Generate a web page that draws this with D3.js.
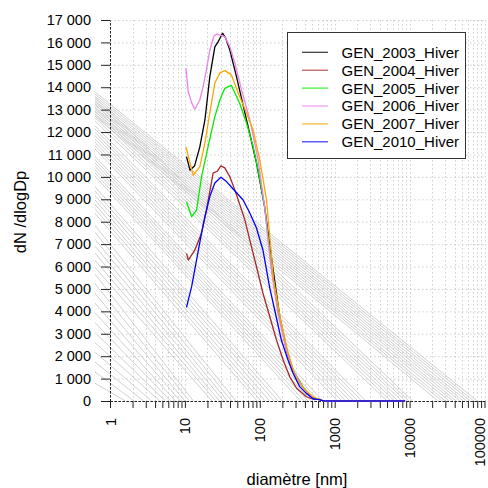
<!DOCTYPE html>
<html><head><meta charset="utf-8">
<script src="https://cdn.jsdelivr.net/npm/d3@7"></script>
<style>
html,body{margin:0;padding:0;background:#fff;}
svg{display:block;font-family:"Liberation Sans",Arial,sans-serif;}
</style></head><body>
<svg id="c" width="488" height="488"></svg>
<script>
// ---------- data ----------
const seriesNames = ["GEN_2003_Hiver","GEN_2004_Hiver","GEN_2005_Hiver","GEN_2006_Hiver","GEN_2007_Hiver","GEN_2010_Hiver"];
const seriesColors = ["#000000","#a52a2a","#00ee00","#ee82ee","#ffa500","#0000ff"];

const d2003 = [10.5,11.7,13.5,15.8,18.5,21.5,25.1,28,31.8,35,39.8,48.9,66.5,90.3,116,149,185,227,275,374,509,600,700,8700];
const v2003 = [10900,10300,10500,11330,12540,14460,15800,16050,16410,16200,15660,14460,12540,10620,8660,5980,3750,2280,1380,620,130,90,0,0];

const d2004 = [10.5,11.1,13.6,16.7,19.4,23.8,27,30.2,34.1,39.8,46.4,57.2,63.1,73.6,90.3,110,136,167,205,251,309,418,515,600,700,8700];
const v2004 = [6590,6290,6740,7500,8520,10170,10250,10490,10400,10010,9420,8520,8080,7180,5990,4820,3760,2720,1830,1080,580,190,80,90,0,0];

const d2005 = [10.5,12.3,14.3,16.7,20.4,25.1,29.3,34.1,41.8,53.7,66.5,81.4,95,116,144,179,229,285,386,526,600,700,8700];
const v2005 = [8890,8220,8520,10010,11350,12690,13430,13950,14080,13300,12400,11350,10310,8670,5850,3840,2280,1300,580,130,90,0,0];

const d2006 = [10.3,11.1,12.3,13.6,15.8,17.5,19.4,21.5,24.3,26.4,29.3,34.1,39.8,46.4,57.2,73.6,95.1,116,140,173,222,275,374,509,600,700,8700];
const v2006 = [14850,13800,13300,13020,13430,14030,14770,15660,16260,16380,16330,16260,15810,15080,13870,12540,10750,8670,6070,3970,2360,1380,620,130,90,0,0];

const d2007 = [10.3,12.9,15.8,18.5,21.5,25.1,29.3,34.1,41.8,51.5,66.5,81.4,100,123,153,190,237,292,398,540,620,700,8700];
const v2007 = [11350,10080,10450,11510,12850,14190,14640,14740,14550,13740,12850,12090,10750,8970,5400,3600,2200,1160,500,130,80,0,0];

const d2010 = [10.5,12.3,14.3,16.7,18.5,21.5,25.1,30.2,35.9,44.1,59.9,73.6,90.3,110,136,158,194,238,277,341,418,515,620,720,8700];
const v2010 = [4180,5100,6290,7500,8220,9120,9730,9980,9790,9460,8970,8390,7720,6740,5040,4060,2720,1830,1250,640,340,100,60,0,0];

const seriesD = [d2003,d2004,d2005,d2006,d2007,d2010];
const seriesV = [v2003,v2004,v2005,v2006,v2007,v2010];

// background grey lines: value at diameter 1 nm, diameter where they reach 0
const bgAt1 = [13250,13150,13050,12950,12850,12750,12650,12550,12450,12350,12250,12150,
  12900,12750,12600,12450,12300,12150,12000,11850,
  11600,11450,11300,11150,11000,10850,10700,10550,
  10200,10050,9900,9750,9600,9450,9300,
  8800,8600,8400,8200,8000,7800,7600,
  7000,6700,6400,6100,5800,5500,5200,
  4800,4400,4000,3600,3200,2800,2400,2000,
  1600,1200,800,400];
const bgEnd = [80000,72000,65000,58000,52000,47000,42000,38000,34000,30000,27000,24000,
  11000,9800,8800,7900,7000,6300,5600,5000,
  2600,2300,2050,1800,1600,1400,1250,1100,
  700,620,550,490,440,390,350,
  200,175,155,135,118,104,92,
  48,42,37,33,29,26,23,
  13,11.5,10,8.7,7.5,6.5,5.5,4.6,
  3.6,2.8,2.1,1.6];

const xMajorTicks = [1,10,100,1000,10000,100000];
const xTickLabels = ["1","10","100","1000","10000","100000"];
const yTicks = [0,1000,2000,3000,4000,5000,6000,7000,8000,9000,10000,11000,12000,13000,14000,15000,16000,17000];
const yTickLabels = ["0","1 000","2 000","3 000","4 000","5 000","6 000","7 000","8 000","9 000","10 000","11 000","12 000","13 000","14 000","15 000","16 000","17 000"];
const xTitle = "diamètre [nm]";
const yTitle = "dN /dlogDp";

// ---------- layout ----------
const svg = d3.select("#c");
const x = d3.scaleLog().domain([1,100000]).range([110,484.5]);
const y = d3.scaleLinear().domain([0,17000]).range([401,20]);
const region = {x0:95, x1:500, y0:5, y1:416};

const xAllTicks = [];
xMajorTicks.forEach((m,i)=>{ if(i<xMajorTicks.length-1){ for(let k=1;k<10;k++) xAllTicks.push(m*k);} else xAllTicks.push(m); });

svg.append("defs").append("clipPath").attr("id","clip")
  .append("rect").attr("x",region.x0).attr("y",region.y0)
  .attr("width",region.x1-region.x0).attr("height",region.y1-region.y0);

// grid
const grid = svg.append("g").attr("stroke","#cfcfcf").attr("stroke-width",1).attr("stroke-dasharray","1.5,2.5");
grid.selectAll("line.h").data(yTicks).enter().append("line")
  .attr("x1",x(1)).attr("x2",x(100000)).attr("y1",d=>y(d)+0.5).attr("y2",d=>y(d)+0.5);
grid.selectAll("line.v").data(xAllTicks).enter().append("line")
  .attr("x1",d=>Math.round(x(d))+0.5).attr("x2",d=>Math.round(x(d))+0.5).attr("y1",y(17000)).attr("y2",y(0));

// grey lines
const bg = svg.append("g").attr("clip-path","url(#clip)");
const line = d3.line().x(p=>x(p[0])).y(p=>y(p[1]));
bgAt1.forEach((a,i)=>{
  const e = bgEnd[i];
  const L = Math.log10(e);
  const xs = 0.3;
  const ys = a*(1 - Math.log10(xs)/L);
  bg.append("path").attr("d",line([[xs,ys],[e,0]]))
    .attr("fill","none").attr("stroke","#d0d0d0").attr("stroke-width",1);
});

// axes
const yAxis = svg.append("g").attr("transform",`translate(${x(1)},0)`)
  .call(d3.axisLeft(y).tickValues(yTicks).tickSize(9).tickSizeOuter(0).tickPadding(10)
    .tickFormat((d,i)=>yTickLabels[i]));
const xAxis = svg.append("g").attr("transform",`translate(0,${y(0)})`)
  .call(d3.axisBottom(x).tickValues(xAllTicks).tickSize(7).tickSizeOuter(0)
    .tickFormat(d=>{const i=xMajorTicks.indexOf(d); return i>=0?xTickLabels[i]:"";}));
[yAxis,xAxis].forEach(g=>{
  g.select(".domain").attr("stroke","#222").attr("stroke-dasharray","2.5,1.5");
  g.selectAll(".tick line").attr("stroke","#222");
  g.selectAll("text").attr("font-size","14.5px").attr("fill","#000")
    .attr("font-family","'Liberation Sans',Arial,sans-serif");
});
xAxis.selectAll(".tick text").attr("transform","rotate(-90)")
  .attr("text-anchor","end").attr("x",-17).attr("y",d=>d===100000?-5.5:0).attr("dy","0.35em");

// titles
svg.append("text").attr("x",297).attr("y",485).attr("text-anchor","middle")
  .attr("font-size","16.5px").text(xTitle);
svg.append("text").attr("transform","translate(26,212) rotate(-90)").attr("text-anchor","middle")
  .attr("font-size","16.5px").text(yTitle);

// curves
const cg = svg.append("g").attr("clip-path","url(#clip)");
seriesD.forEach((ds,i)=>{
  const pts = ds.map((d,j)=>[d,seriesV[i][j]]);
  cg.append("path").attr("d",line(pts)).attr("fill","none")
    .attr("stroke",seriesColors[i]).attr("stroke-width",1.3).attr("stroke-linejoin","round");
});

// legend
const lg = svg.append("g");
lg.append("rect").attr("x",287.5).attr("y",32.5).attr("width",178).attr("height",126)
  .attr("fill","#fff").attr("stroke","#333").attr("stroke-width",1);
seriesNames.forEach((n,i)=>{
  const cy = 52.3 + i*17.9;
  lg.append("line").attr("x1",302).attr("x2",328).attr("y1",cy).attr("y2",cy)
    .attr("stroke",seriesColors[i]).attr("stroke-width",1.2).attr("opacity",0.8);
  lg.append("text").attr("x",341.5).attr("y",cy).attr("dy","0.36em")
    .attr("font-size","15px").text(n);
});
</script>
</body></html>
